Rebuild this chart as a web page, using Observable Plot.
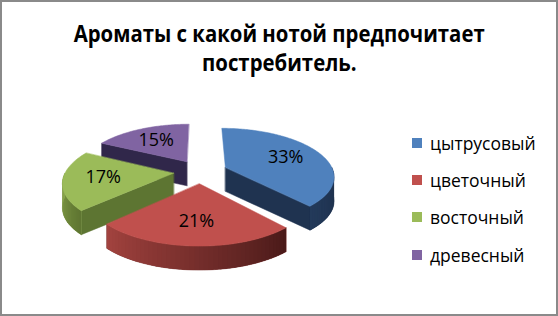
<!DOCTYPE html>
<html><head><meta charset="utf-8">
<script src="https://cdn.jsdelivr.net/npm/d3@7"></script>
<script src="https://cdn.jsdelivr.net/npm/@observablehq/plot@0.6"></script>
<style>
html,body{margin:0;padding:0;background:#fff;}
#chart{position:relative;width:558px;height:316px;overflow:hidden;font-family:"Open Sans",sans-serif;color:#000;}
#plot{position:absolute;left:0;top:0;}
#frame{position:absolute;left:0;top:0;width:558px;height:316px;box-sizing:border-box;border:2px solid #8a8a8a;pointer-events:none;}
#title{position:absolute;left:0;top:19px;width:558px;text-align:center;font-weight:bold;font-size:23px;line-height:29px;}
#title span{display:inline-block;white-space:nowrap;transform-origin:center;}
#legend{position:absolute;left:412px;top:124px;}
.row{display:flex;align-items:center;height:37.3px;font-size:17.5px;white-space:nowrap;}
.sw{width:10px;height:10px;margin-right:8px;}
</style></head><body>
<div id="chart"><div id="plot"></div><div id="title"></div><div id="legend"></div><div id="frame"></div></div>
<script>
// ---- data ----
const titleLines = ["Ароматы с какой нотой предпочитает", "постребитель."];
const categories = ["цытрусовый", "цветочный", "восточный", "древесный"];
const values = [0.33, 0.21, 0.17, 0.15];
const labels = ["33%", "21%", "17%", "15%"];
// ---- styles ----
const topColors = ["#4F81BD", "#C0504D", "#9BBB59", "#8064A2"];
const wallLeft = ["#233A5A", "#A3433F", "#8CA84D", "#3A2E55"];
const wallRight = ["#1C2E49", "#4A1A19", "#5E7531", "#2E2545"];
const faceColors = ["#1F3350", "#7A2E2C", "#5D7532", "#30274A"];

// ---- geometry ----
const cx = 200, cy = 171, rx = 108, ry = 47;
const K = 0.17, E = 0.25, D = 24 / ry, LR = 0.64;
function proj(X, Z, down) {
  const p = 1 / (1 - K * Z);
  return [X * p, Z * p + (down ? D : 0)];
}
const arcs = d3.pie().sort(null).value(d => d)(values);
const polys = [];
const texts = [];
let pid = 0;
function addPoly(pts, color, edge) {
  const id = pid++;
  for (const [u, v] of pts) polys.push({id, u, v, color, edge: edge ? color : "none"});
}
const order = [3, 2, 0, 1];
for (const i of order) {
  const a0 = arcs[i].startAngle, a1 = arcs[i].endAngle, m = (a0 + a1) / 2;
  const ox = E * Math.sin(m), oz = -E * Math.cos(m);
  const pt = (t, r, down) => proj(ox + r * Math.sin(t), oz - r * Math.cos(t), down);
  // radial faces
  if (Math.sin(a0) < -1e-6) addPoly([pt(a0, 0, 0), pt(a0, 1, 0), pt(a0, 1, 1), pt(a0, 0, 1)], faceColors[i], true);
  if (Math.sin(a1) > 1e-6) addPoly([pt(a1, 0, 0), pt(a1, 1, 0), pt(a1, 1, 1), pt(a1, 0, 1)], faceColors[i], true);
  // outer wall (front half), shaded in overlapping strips
  const w0 = Math.max(a0, Math.PI / 2), w1 = Math.min(a1, 3 * Math.PI / 2);
  if (w1 > w0) {
    const n = Math.max(2, Math.ceil((w1 - w0) / (Math.PI / 90)));
    const step = (w1 - w0) / n;
    const col = d3.interpolateRgb(wallRight[i], wallLeft[i]);
    const base = [];
    for (let j = 0; j <= n; j++) base.push(pt(w0 + step * j, 1, 0));
    for (let j = n; j >= 0; j--) base.push(pt(w0 + step * j, 1, 1));
    addPoly(base, col(0.5), true);
    for (let j = 0; j < n; j++) {
      const t0 = w0 + step * j, t1 = Math.min(w1, w0 + step * (j + 1.6));
      addPoly([pt(t0, 1, 0), pt(t1, 1, 0), pt(t1, 1, 1), pt(t0, 1, 1)], col((j + 0.5) / n), false);
    }
  }
  // top face
  const top = [pt(m, 0, 0)];
  const n = Math.ceil((a1 - a0) / (Math.PI / 180));
  for (let j = 0; j <= n; j++) top.push(pt(a0 + (a1 - a0) * j / n, 1, 0));
  addPoly(top, topColors[i], true);
  const [lu, lv] = pt(m, LR, 0);
  texts.push({u: lu, v: lv, label: labels[i]});
}

const chart = Plot.plot({
  width: 558, height: 316, margin: 0,
  x: {domain: [-1, 1], range: [cx - rx, cx + rx], axis: null},
  y: {domain: [-1, 1], range: [cy - ry, cy + ry], axis: null},
  color: {type: "identity"},
  style: {background: "transparent", overflow: "visible"},
  marks: [
    Plot.line(polys, {x: "u", y: "v", z: "id", fill: "color", stroke: "edge", strokeWidth: 0.5, curve: "linear-closed"}),
    Plot.text(texts, {x: "u", y: "v", text: "label", fontSize: 18, fontFamily: "Open Sans", fill: "#000"})
  ]
});
document.getElementById("plot").appendChild(chart);

// title
const titleEl = document.getElementById("title");
const spans = titleLines.map(t => {
  const div = document.createElement("div");
  const s = document.createElement("span");
  s.textContent = t;
  div.appendChild(s);
  titleEl.appendChild(div);
  return s;
});
const tw = spans[0].getBoundingClientRect().width;
const sx = 411 / tw;
spans.forEach(s => s.style.transform = `scaleX(${sx})`);

// legend
const leg = document.getElementById("legend");
categories.forEach((c, i) => {
  const row = document.createElement("div");
  row.className = "row";
  const sw = document.createElement("div");
  sw.className = "sw";
  sw.style.background = topColors[i];
  const tx = document.createElement("span");
  tx.textContent = c;
  row.appendChild(sw); row.appendChild(tx);
  leg.appendChild(row);
});
</script>
</body></html>
